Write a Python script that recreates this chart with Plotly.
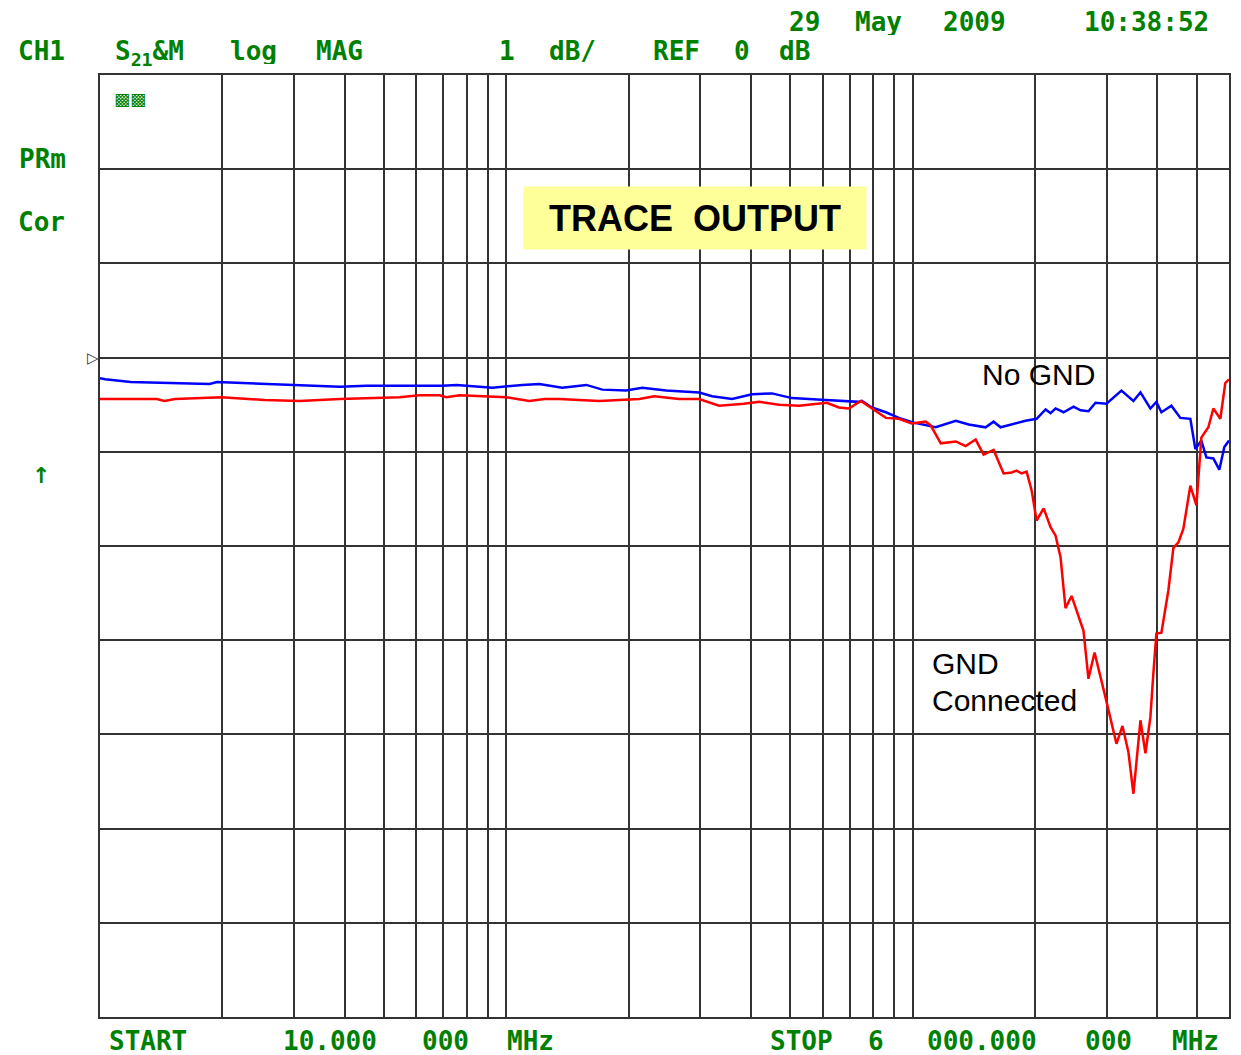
import math
import plotly.graph_objects as go

# ---------------- data (MHz, dB) ----------------
blue_freq = [10, 10.3, 11.9, 14.3, 18.6, 19.4, 24.7, 29.8, 38.9, 45.3, 69.6, 75.4, 92.4, 109.5,
             120.5, 137.3, 157.3, 172.2, 197.2, 215.9, 247.3, 298.1, 320.8, 359.2, 402.2, 450.5,
             504.3, 611.1, 736.9, 749.5, 793.2, 858.5, 924, 1006, 1139, 1276, 1373, 1511, 1581,
             1645, 1771, 1895, 2017, 2123, 2183, 2246, 2350, 2487, 2587, 2706, 2816, 2997, 3262,
             3491, 3633, 3843, 3976, 4091, 4329, 4555, 4820, 4959, 5130, 5278, 5491, 5680, 5843,
             6000]
blue_db = [-0.22, -0.23, -0.26, -0.27, -0.28, -0.26, -0.28, -0.29, -0.31, -0.30, -0.30, -0.29,
           -0.32, -0.29, -0.28, -0.32, -0.29, -0.34, -0.35, -0.32, -0.35, -0.37, -0.41, -0.44,
           -0.39, -0.38, -0.43, -0.45, -0.47, -0.46, -0.53, -0.58, -0.64, -0.69, -0.74, -0.67,
           -0.71, -0.74, -0.68, -0.74, -0.70, -0.67, -0.65, -0.55, -0.59, -0.54, -0.58, -0.52,
           -0.56, -0.57, -0.48, -0.49, -0.35, -0.46, -0.37, -0.54, -0.47, -0.58, -0.51, -0.64,
           -0.65, -0.97, -0.88, -1.06, -1.07, -1.19, -0.95, -0.88]

red_freq = [10, 13.8, 14.4, 15.3, 19.9, 25.4, 31.0, 38.9, 54.6, 61.1, 68.5, 71.2, 76.7, 100,
            113.9, 124.0, 135.0, 169.3, 212.3, 231.0, 266.1, 298.1, 333.7, 384.3, 418.5, 468.7,
            524.8, 614.6, 658.0, 696.2, 745.2, 793.2, 858.5, 924, 994.3, 1076, 1107, 1172, 1276,
            1349, 1428, 1494, 1581, 1673, 1751, 1801, 1853, 1906, 1961, 2017, 2099, 2183, 2246,
            2310, 2376, 2459, 2631, 2706, 2801, 2981, 3066, 3171, 3281, 3394, 3491, 3551, 3633,
            3737, 3843, 3909, 3976, 4091, 4256, 4378, 4505, 4632, 4820, 4988, 5073, 5130, 5338,
            5491, 5713, 5875, 6000]
red_db = [-0.44, -0.44, -0.46, -0.44, -0.42, -0.45, -0.46, -0.44, -0.42, -0.40, -0.40, -0.42,
          -0.40, -0.42, -0.46, -0.44, -0.44, -0.46, -0.44, -0.41, -0.44, -0.44, -0.51, -0.49,
          -0.47, -0.50, -0.51, -0.48, -0.53, -0.54, -0.46, -0.54, -0.64, -0.65, -0.70, -0.68,
          -0.72, -0.91, -0.89, -0.94, -0.87, -1.03, -0.98, -1.23, -1.22, -1.20, -1.23, -1.21,
          -1.41, -1.73, -1.60, -1.80, -1.89, -2.12, -2.66, -2.53, -2.90, -3.41, -3.13, -3.61,
          -3.82, -4.10, -3.91, -4.19, -4.63, -4.28, -3.85, -4.20, -3.82, -3.35, -2.93, -2.92,
          -2.47, -2.02, -1.96, -1.82, -1.36, -1.57, -1.06, -0.85, -0.74, -0.54, -0.65, -0.27,
          -0.23]

x_grid = [20, 30, 40, 50, 60, 70, 80, 90, 100, 200, 300, 400, 500, 600, 700, 800, 900,
          1000, 2000, 3000, 4000, 5000]
f_start, f_stop = 10, 6000
ref_db, db_per_div = 0, 1
y_min, y_max = -7, 3

# ---------------- layout helpers (pixel -> paper) ----------------
W, H = 1241, 1055
L, R, T, B = 100, 10, 75, 38
PW, PH = W - L - R, H - T - B


def px(x):
    return (x - L) / PW


def py(y):
    return (H - B - y) / PH


GREEN = "#008000"
GRID = "#333333"

fig = go.Figure()
fig.add_trace(go.Scatter(x=blue_freq, y=blue_db, mode="lines", name="No GND",
                         line=dict(color="#0000FF", width=2.5), showlegend=False))
fig.add_trace(go.Scatter(x=red_freq, y=red_db, mode="lines", name="GND Connected",
                         line=dict(color="#FF0000", width=2.5), showlegend=False))

fig.update_xaxes(type="log", range=[math.log10(f_start), math.log10(f_stop)],
                 tickmode="array", tickvals=x_grid, showticklabels=False, ticks="",
                 showgrid=True, gridcolor=GRID, gridwidth=1.5,
                 showline=True, linecolor=GRID, linewidth=2, mirror=True, zeroline=False)
fig.update_yaxes(range=[y_min, y_max], dtick=db_per_div, tick0=ref_db, showticklabels=False,
                 ticks="", showgrid=True, gridcolor=GRID, gridwidth=1.5,
                 showline=True, linecolor=GRID, linewidth=2, mirror=True, zeroline=False)

ann = []
green_words = [
    ("29", 806, 22), ("May", 880, 22), ("2009", 976, 22), ("10:38:52", 1148, 22),
    ("CH1", 41, 51), ("S<sub>21</sub>&M", 150, 53), ("log", 254, 51), ("MAG", 340, 51),
    ("1", 508, 51), ("dB/", 573, 51), ("REF", 678, 51), ("0", 743, 51), ("dB", 796, 51),
    ("PRm", 42, 159), ("Cor", 41, 222),
    ("START", 148, 1041), ("10.000", 330, 1041), ("000", 446, 1041), ("MHz", 531, 1041),
    ("STOP", 803, 1041), ("6", 877, 1041), ("000.000", 984, 1041), ("000", 1110, 1041),
    ("MHz", 1197, 1041),
]
for t, cx, cy in green_words:
    ann.append(dict(text=t, x=px(cx), y=py(cy), xref="paper", yref="paper",
                    xanchor="center", yanchor="middle", showarrow=False,
                    height=26, borderpad=0,
                    font=dict(family="DejaVu Sans Mono", size=26, color=GREEN, weight="bold")))

ann.append(dict(text="↑", x=px(41), y=py(475), xref="paper", yref="paper",
                xanchor="center", yanchor="middle", showarrow=False,
                font=dict(family="DejaVu Sans", size=22, color=GREEN, weight="bold")))
ann.append(dict(text="▩▩", x=px(130), y=py(99), xref="paper", yref="paper",
                xanchor="center", yanchor="middle", showarrow=False,
                font=dict(family="DejaVu Sans", size=17, color=GREEN)))
ann.append(dict(text="▷", x=px(93), y=ref_db, xref="paper", yref="y",
                xanchor="center", yanchor="middle", showarrow=False,
                font=dict(family="DejaVu Sans", size=15, color="#333333")))

ann.append(dict(text="<b>TRACE\u00a0 OUTPUT</b>", x=px(696), y=py(218), xref="paper", yref="paper",
                xanchor="center", yanchor="middle", showarrow=False, bgcolor="#FFFF99",
                width=342, height=62, borderpad=0,
                font=dict(family="Liberation Sans, Arial", size=36, color="black")))
ann.append(dict(text="No GND", x=px(1040), y=py(374), xref="paper", yref="paper",
                xanchor="center", yanchor="middle", showarrow=False,
                font=dict(family="Liberation Sans, Arial", size=30, color="black")))
ann.append(dict(text="GND", x=px(931), y=py(663), xref="paper", yref="paper",
                xanchor="left", yanchor="middle", showarrow=False,
                font=dict(family="Liberation Sans, Arial", size=30, color="black")))
ann.append(dict(text="Connected", x=px(931), y=py(700), xref="paper", yref="paper",
                xanchor="left", yanchor="middle", showarrow=False,
                font=dict(family="Liberation Sans, Arial", size=30, color="black")))

fig.update_layout(width=W, height=H, autosize=False,
                  margin=dict(l=L, r=R, t=T, b=B, pad=0),
                  paper_bgcolor="white", plot_bgcolor="white",
                  annotations=ann, showlegend=False)

fig.write_html("out.html", config={"displayModeBar": False},
               post_script="document.body.style.margin='0px';")
